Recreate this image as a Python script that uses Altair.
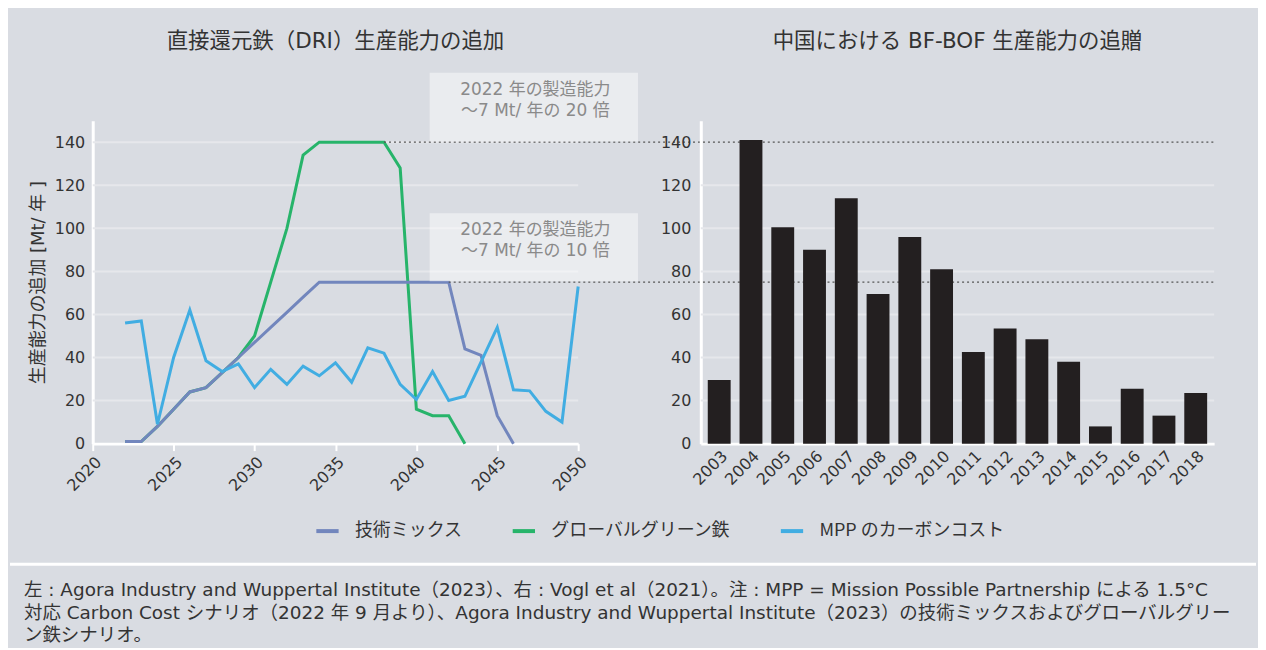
import altair as alt
import pandas as pd

# ---------------- data ----------------
series_names = ["技術ミックス", "グローバルグリーン鉄", "MPP のカーボンコスト"]
series_colors = ["#7286bd", "#27b46a", "#41ade2"]

tech_years = list(range(2022, 2047))
tech_values = [1, 1, 8, 16, 24, 26, 33, 40, 47, 54, 61, 68, 75, 75, 75, 75, 75, 75,
               75, 75, 75, 44, 41, 13, 0]

green_years = list(range(2022, 2044))
green_values = [1, 1, 8, 16, 24, 26, 33, 40, 50, 75, 100, 134, 140, 140, 140, 140,
                140, 128, 16, 13, 13, 0]

mpp_years = list(range(2022, 2051))
mpp_values = [56, 57, 9, 40, 62, 38.5, 33.5, 37, 26, 34.5, 27.5, 36, 31.5, 37.5,
              28.5, 44.5, 42, 27.5, 20.5, 33.5, 20, 22, 38, 54, 25, 24.5, 15, 10, 73]

bar_years = [str(y) for y in range(2003, 2019)]
bar_values = [29.5, 141, 100.5, 90, 114, 69.5, 96, 81, 42.5, 53.5, 48.5, 38, 8,
              25.5, 13, 23.5]

ref_levels = [140, 75]
ref_start_years = [2038, 2042]

y_ticks = [0, 20, 40, 60, 80, 100, 120, 140]
grid_left = [20, 40, 60, 80, 100, 120, 140]
grid_right = [20, 40, 60, 80, 100, 120]
x_ticks = [2020, 2025, 2030, 2035, 2040, 2045, 2050]

title_left = "直接還元鉄（DRI）生産能力の追加"
title_right = "中国における BF-BOF 生産能力の追贈"
y_title = "生産能力の追加 [Mt/ 年 ]"
note_20 = ["2022 年の製造能力", "～7 Mt/ 年の 20 倍"]
note_10 = ["2022 年の製造能力", "～7 Mt/ 年の 10 倍"]
footer_lines = [
    "左 : Agora Industry and Wuppertal Institute（2023）、右 : Vogl et al（2021）。注 : MPP = Mission Possible Partnership による 1.5°C",
    "対応 Carbon Cost シナリオ（2022 年 9 月より）、Agora Industry and Wuppertal Institute（2023）の技術ミックスおよびグローバルグリー",
    "ン鉄シナリオ。",
]

# ---------------- style ----------------
BG = "#d9dce2"
FONT = "Noto Sans CJK JP"
MIX_FONT = "DejaVu Sans, Noto Sans CJK JP"
NUM_FONT = "DejaVu Sans"
TXT = "#333333"
GRID = "#e6e7eb"
W_L, W_R, H = 487, 515, 324

rows = []
for name, yrs, vals in [(series_names[0], tech_years, tech_values),
                        (series_names[1], green_years, green_values),
                        (series_names[2], mpp_years, mpp_values)]:
    rows += [{"series": name, "year": y, "value": v} for y, v in zip(yrs, vals)]
line_df = pd.DataFrame(rows)
bar_df = pd.DataFrame({"year": bar_years, "value": bar_values})
ref_df = pd.DataFrame({"year": ref_start_years, "value": ref_levels})
one = pd.DataFrame({"k": [0]})

y_scale = alt.Scale(domain=[0, 150], nice=False)
x_scale = alt.Scale(domain=[2020, 2050], nice=False, zero=False)

x_axis_l = alt.Axis(values=x_ticks, format="d", labelAngle=315, labelFont=NUM_FONT,
                    labelFontSize=16, labelColor=TXT, tickColor="white", tickSize=7,
                    tickWidth=2, domainColor="white", domainWidth=3, grid=False,
                    title=None, labelPadding=3)
y_axis_l = alt.Axis(values=y_ticks, labelFont=NUM_FONT, labelFontSize=16,
                    labelColor=TXT, ticks=False, domainColor="white", domainWidth=3,
                    grid=False, title=y_title, titleFont=MIX_FONT, titleFontSize=18,
                    titleFontWeight="normal", titleColor=TXT, titlePadding=7,
                    labelPadding=8)
y_axis_r = alt.Axis(values=y_ticks, labelFont=NUM_FONT, labelFontSize=16,
                    labelColor=TXT, ticks=False, domainColor="white", domainWidth=3,
                    grid=False, title=None, labelPadding=10)

# ---------------- left chart ----------------
grid_l = alt.Chart(pd.DataFrame({"value": grid_left})).mark_rule(
    color=GRID, strokeWidth=2
).encode(y=alt.Y("value:Q", scale=y_scale, axis=y_axis_l), x=alt.value(0), x2=alt.value(W_L))

color = alt.Color(
    "series:N",
    scale=alt.Scale(domain=series_names, range=series_colors),
    legend=alt.Legend(
        title=None, orient="none", legendX=222, legendY=398, direction="horizontal",
        symbolType="stroke", symbolStrokeWidth=4, symbolSize=500,
        labelFont=FONT, labelFontSize=18, labelColor=TXT, columnPadding=42,
        labelOffset=14, labelLimit=400,
    ),
)

base_line = alt.Chart(line_df).mark_line(strokeWidth=3).encode(
    x=alt.X("year:Q", scale=x_scale, axis=x_axis_l),
    y=alt.Y("value:Q", scale=y_scale, axis=y_axis_l),
    color=color,
)
green_l = base_line.transform_filter(alt.datum.series == series_names[1])
tech_l = base_line.transform_filter(alt.datum.series == series_names[0])
mpp_l = base_line.transform_filter(alt.datum.series == series_names[2])

ref_rules = alt.Chart(ref_df).mark_rule(color="#555555", strokeDash=[2, 3], strokeWidth=1.3).encode(
    x=alt.X("year:Q", scale=x_scale, axis=x_axis_l),
    x2=alt.value(W_L + 123 + W_R),
    y=alt.Y("value:Q", scale=y_scale, axis=y_axis_l),
)

box1 = alt.Chart(one).mark_rect(color="white", opacity=0.45).encode(
    x=alt.value(338), x2=alt.value(547), y=alt.value(-48), y2=alt.value(21))
box2 = alt.Chart(one).mark_rect(color="white", opacity=0.45).encode(
    x=alt.value(338), x2=alt.value(547), y=alt.value(93), y2=alt.value(161))
txt1 = alt.Chart(one).mark_text(font=MIX_FONT, fontSize=17, color="#8a8a8a", align="center",
                                baseline="middle", lineHeight=21).encode(
    x=alt.value(444), y=alt.value(-31), text=alt.value(note_20))
txt2 = alt.Chart(one).mark_text(font=MIX_FONT, fontSize=17, color="#8a8a8a", align="center",
                                baseline="middle", lineHeight=21).encode(
    x=alt.value(444), y=alt.value(110), text=alt.value(note_10))

sep = alt.Chart(one).mark_rule(color="white", strokeWidth=3).encode(
    x=alt.value(-83), x2=alt.value(1167), y=alt.value(445))
footer = alt.Chart(one).mark_text(font=MIX_FONT, fontSize=18.5, color=TXT, align="left",
                                  baseline="middle", lineHeight=22.5).encode(
    x=alt.value(-69), y=alt.value(471), text=alt.value(footer_lines))

left = alt.layer(grid_l, green_l, tech_l, mpp_l, ref_rules, box1, box2, txt1, txt2, sep, footer).properties(
    width=W_L, height=H,
    title=alt.TitleParams(title_left, font=MIX_FONT, fontSize=21.5, fontWeight="normal", color=TXT,
                          anchor="middle", frame="group", offset=20),
)

# ---------------- right chart ----------------
grid_r = alt.Chart(pd.DataFrame({"value": grid_right})).mark_rule(
    color=GRID, strokeWidth=2
).encode(y=alt.Y("value:Q", scale=y_scale, axis=y_axis_r), x=alt.value(0), x2=alt.value(W_R))

bars = alt.Chart(bar_df).mark_bar(color="#231f20").encode(
    x=alt.X("year:O", scale=alt.Scale(paddingInner=0.28, paddingOuter=0.22),
            axis=alt.Axis(labelAngle=315, ticks=False, domainColor="white", domainWidth=3,
                          labelFont=NUM_FONT, labelFontSize=16, labelColor=TXT, title=None,
                          labelPadding=4)),
    y=alt.Y("value:Q", scale=y_scale, axis=y_axis_r),
)

right = alt.layer(grid_r, bars).properties(
    width=W_R, height=H,
    title=alt.TitleParams(title_right, font=MIX_FONT, fontSize=21.5, fontWeight="normal", color=TXT,
                          anchor="middle", frame="group", offset=68),
)

chart = alt.hconcat(left, right, spacing=123, bounds="flush").resolve_scale(
    color="independent"
).properties(
    background=BG,
    padding={"left": 0, "right": 0, "top": 22, "bottom": 2},
).configure_view(stroke=None)

chart.save("out.html", embed_options={"renderer": "svg", "actions": False})
